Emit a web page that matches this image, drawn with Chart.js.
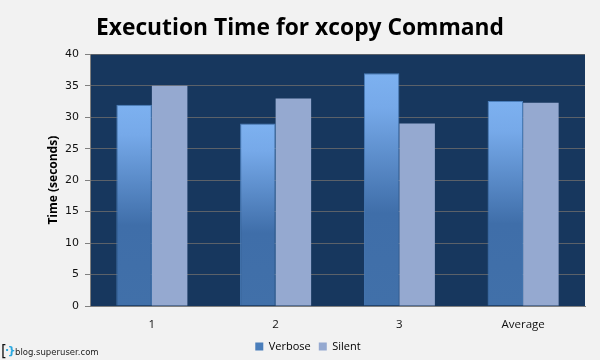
<!DOCTYPE html>
<html>
<head>
<meta charset="utf-8">
<style>
  html, body { margin: 0; padding: 0; background: #f2f2f2; }
  #wrap { position: relative; width: 600px; height: 360px; overflow: hidden; }
  #brand span { position: absolute; white-space: nowrap; font-family: "DejaVu Sans", sans-serif; }
  #bracket { left: 1px; top: 342px; font-size: 15px; color: #111; }
  #mark { left: 5px; top: 344px; font-size: 11px; font-weight: bold; letter-spacing: -1.5px; color: #29a8e0; }
  #site { left: 15px; top: 347px; font-size: 8.5px; color: #222; }
</style>
</head>
<body>
<div id="wrap">
  <canvas id="chart" width="600" height="360"></canvas>
  <div id="brand"><span id="bracket">[</span><span id="mark">·}</span><span id="site">blog.superuser.com</span></div>
</div>
<script src="https://cdn.jsdelivr.net/npm/chart.js@4/dist/chart.umd.min.js"></script>
<script>
const categories = ['1', '2', '3', 'Average'];
const verbose = [32, 29, 37, 32.6];
const silent = [35, 33, 29, 32.3];
const yTicks = [0, 5, 10, 15, 20, 25, 30, 35, 40];

// Verbose bars fade from light blue at the top to the darker blue halfway down
function verboseFill(ctx) {
  const chart = ctx.chart;
  if (!chart.chartArea || ctx.parsed === undefined) return '#4a7ebb';
  const y = chart.scales.y;
  const top = y.getPixelForValue(ctx.parsed.y);
  const g = chart.ctx.createLinearGradient(0, top, 0, y.getPixelForValue(0));
  g.addColorStop(0, '#7db1f0');
  g.addColorStop(0.15, '#76a9e9');
  g.addColorStop(0.6, '#3f6ea9');
  g.addColorStop(1, '#4170a9');
  return g;
}

const plotBackground = {
  id: 'plotBackground',
  beforeDraw(chart) {
    const a = chart.chartArea;
    chart.ctx.save();
    chart.ctx.fillStyle = '#17375e';
    chart.ctx.fillRect(a.left, a.top, a.width, a.height);
    chart.ctx.restore();
  }
};

// Title stays centred on the page, the legend sits a little right and lower
const legendNudge = {
  id: 'legendNudge',
  afterLayout(chart) {
    const l = chart.legend;
    l.left += 8;
    l.right += 8;
    l.top += 2;
    l.bottom += 2;
  }
};

new Chart(document.getElementById('chart'), {
  type: 'bar',
  plugins: [plotBackground, legendNudge],
  data: {
    labels: categories,
    datasets: [
      { label: 'Verbose', data: verbose, backgroundColor: verboseFill, borderColor: '#4a7ebb', borderWidth: 1 },
      { label: 'Silent', data: silent, backgroundColor: '#95a9d0', borderWidth: 0 }
    ]
  },
  options: {
    responsive: false,
    animation: false,
    categoryPercentage: 0.574,
    barPercentage: 1,
    layout: { padding: { left: 15, right: 15, top: 0, bottom: 0 } },
    plugins: {
      tooltip: { enabled: false },
      title: {
        display: true,
        text: 'Execution Time for xcopy Command',
        color: '#000',
        font: { family: '"Open Sans"', size: 22.8, weight: 'bold' },
        padding: { top: 15, bottom: 12 }
      },
      legend: {
        position: 'bottom',
        labels: {
          color: '#111',
          font: { family: '"Open Sans"', size: 11 },
          boxWidth: 8,
          boxHeight: 8,
          padding: 8,
          generateLabels() {
            return [
              { text: 'Verbose', fillStyle: '#4a7ebb', strokeStyle: '#4a7ebb', lineWidth: 0, datasetIndex: 0 },
              { text: 'Silent', fillStyle: '#95a9d0', strokeStyle: '#95a9d0', lineWidth: 0, datasetIndex: 1 }
            ];
          }
        }
      }
    },
    scales: {
      x: {
        grid: { display: false, drawTicks: false },
        border: { color: '#808080' },
        ticks: { color: '#111', font: { family: '"Open Sans"', size: 11.5 }, padding: 12 },
        afterFit(axis) { axis.height = 25; }
      },
      y: {
        min: 0,
        max: 40,
        afterBuildTicks(axis) { axis.ticks = yTicks.map(v => ({ value: v })); },
        grid: { color: '#5b6169', tickColor: '#808080', tickLength: 5, lineWidth: 1 },
        border: { color: '#808080' },
        title: {
          display: true,
          text: 'Time (seconds)',
          color: '#000',
          font: { family: '"Open Sans"', size: 12, weight: 'bold' },
          padding: { top: 31, bottom: 4 }
        },
        ticks: { color: '#111', font: { family: '"DejaVu Sans"', size: 11 }, padding: 6 },
        afterFit(axis) { axis.width = 75; }
      }
    }
  }
});
</script>
</body>
</html>
